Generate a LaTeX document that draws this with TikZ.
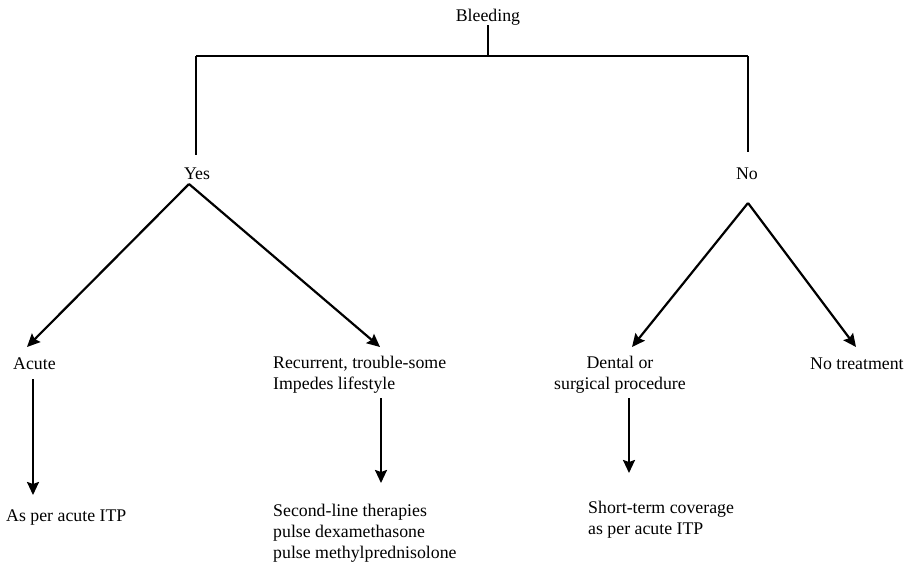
\documentclass[tikz,border=0pt]{standalone}
\usepackage{fontspec}
\setmainfont{Liberation Serif}
\usepackage{tikz}
\usetikzlibrary{arrows.meta,positioning}

\begin{document}
\begin{tikzpicture}[
    x=1pt, y=-1pt,
    lbl/.style={inner sep=0pt, font=\fontsize{17.8}{20.8}\selectfont},
    tline/.style={line width=1.3pt},
    arrow/.style={line width=2.2pt, -{Stealth[length=13pt, width=12pt, inset=2pt]}}
]
    \useasboundingbox (0,0) rectangle (911,562);

    % Labels (multi-line ones sit on their last baseline)
    \node[lbl, anchor=base] (bleed) at (488,21) {Bleeding};
    \node[lbl, anchor=base] (yes) at (197,179) {Yes};
    \node[lbl, anchor=base] (no) at (747,179) {No};
    \node[lbl, anchor=base west] (acute) at (13,369) {Acute};
    \node[lbl, anchor=base west, align=left] (recur) at (273,389) {Recurrent, trouble-some\\Impedes lifestyle};
    \node[lbl, anchor=base, align=center] (dental) at (620,389) {Dental or\\surgical procedure};
    \node[lbl, anchor=base west] (notreat) at (810,369) {No treatment};
    \node[lbl, anchor=base west] (asper) at (6,521) {As per acute ITP};
    \node[lbl, anchor=base west, align=left] (second) at (273,558) {Second-line therapies\\pulse dexamethasone\\pulse methylprednisolone};
    \node[lbl, anchor=base west, align=left] (short) at (588,534) {Short-term coverage\\as per acute ITP};

    % Tree corners and arrow ends
    \coordinate (hl) at (196,56);
    \coordinate (hr) at (748,56);
    \coordinate (yestop) at (189,184);
    \coordinate (notop) at (748,203);

    % Top tree
    \draw[tline] (bleed.south) -- (bleed.south |- hl);
    \draw[tline] (hl) -- (hr);
    \draw[tline] (hl) -- (196,155);
    \draw[tline] (hr) -- (748,152);

    % Arrows
    \draw[arrow] (yestop) -- (27,347);
    \draw[arrow] (yestop) -- (380,347);
    \draw[arrow] (notop) -- (632,347);
    \draw[arrow] (notop) -- (856,347);
    \draw[arrow] (33,379) -- (33,495);
    \draw[arrow] (381,398) -- (381,483);
    \draw[arrow] (629,398) -- (629,473);
\end{tikzpicture}
\end{document}
